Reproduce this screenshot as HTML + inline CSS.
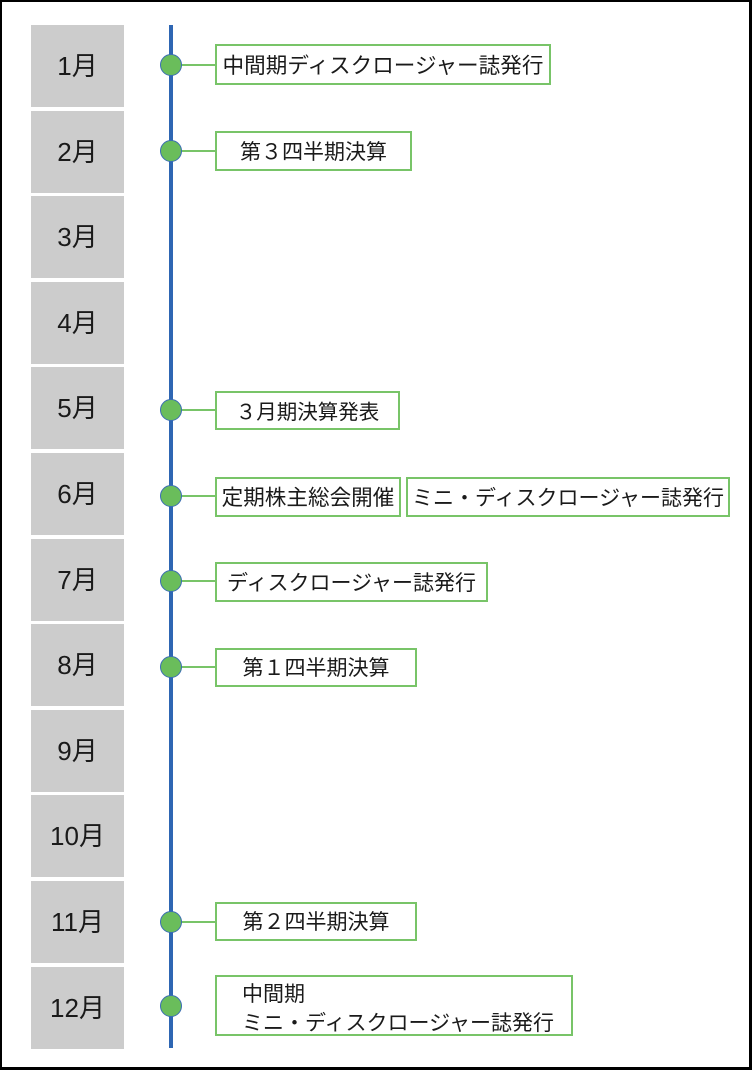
<!DOCTYPE html>
<html>
<head>
<meta charset="utf-8">
<style>
  html, body { margin:0; padding:0; }
  body { width:752px; height:1070px; position:relative; overflow:hidden; background:#fff;
         font-family:"Liberation Sans","Noto Sans CJK JP",sans-serif; color:#1a1a1a; }
  .frame { position:absolute; left:0; top:0; width:752px; height:1070px; box-sizing:border-box;
           border:2px solid #000; border-right-width:3px; border-bottom-width:3px; }
  .m { position:absolute; left:31px; width:93px; height:82px; background:#cccccc;
       text-align:center; line-height:82px; font-size:26px; color:#1a1a1a; }
  .b { position:absolute; box-sizing:border-box; border:2px solid #78c468; background:#fff;
       text-align:center; font-family:"Noto Sans CJK JP","Liberation Sans",sans-serif;
       font-size:21px; white-space:nowrap; color:#1a1a1a; }
  svg { position:absolute; left:0; top:0; }
</style>
</head>
<body>
<div class="frame"></div>

<div class="m" style="top:25px">1月</div>
<div class="m" style="top:111px">2月</div>
<div class="m" style="top:196px">3月</div>
<div class="m" style="top:282px">4月</div>
<div class="m" style="top:367px">5月</div>
<div class="m" style="top:453px">6月</div>
<div class="m" style="top:539px">7月</div>
<div class="m" style="top:624px">8月</div>
<div class="m" style="top:710px">9月</div>
<div class="m" style="top:795px">10月</div>
<div class="m" style="top:881px">11月</div>
<div class="m" style="top:967px">12月</div>

<svg width="752" height="1070" viewBox="0 0 752 1070">
  <rect x="169" y="25" width="4" height="1023" fill="#2e66b3"/>
  <g stroke="#78c468" stroke-width="2">
    <line x1="181" y1="65" x2="216" y2="65"/>
    <line x1="181" y1="151" x2="216" y2="151"/>
    <line x1="181" y1="410" x2="216" y2="410"/>
    <line x1="181" y1="496" x2="216" y2="496"/>
    <line x1="181" y1="581" x2="216" y2="581"/>
    <line x1="181" y1="667" x2="216" y2="667"/>
    <line x1="181" y1="922" x2="216" y2="922"/>
  </g>
  <g fill="#6abd5b" stroke="#3a6db3" stroke-width="1">
    <circle cx="171" cy="65" r="10.5"/>
    <circle cx="171" cy="151" r="10.5"/>
    <circle cx="171" cy="410" r="10.5"/>
    <circle cx="171" cy="496" r="10.5"/>
    <circle cx="171" cy="581" r="10.5"/>
    <circle cx="171" cy="667" r="10.5"/>
    <circle cx="171" cy="922" r="10.5"/>
    <circle cx="171" cy="1006" r="10.5"/>
  </g>
</svg>

<div class="b" style="left:215px;top:44px;width:336px;height:41px;line-height:37px;font-size:21.6px;">中間期ディスクロージャー誌発行</div>
<div class="b" style="left:215px;top:131px;width:197px;height:40px;line-height:36px;">第３四半期決算</div>
<div class="b" style="left:215px;top:391px;width:185px;height:39px;line-height:35px;font-size:20.5px;">３月期決算発表</div>
<div class="b" style="left:215px;top:477px;width:186px;height:40px;line-height:36px;font-size:21.6px;">定期株主総会開催</div>
<div class="b" style="left:406px;top:477px;width:324px;height:40px;line-height:36px;">ミニ・ディスクロージャー誌発行</div>
<div class="b" style="left:215px;top:562px;width:273px;height:40px;line-height:36px;">ディスクロージャー誌発行</div>
<div class="b" style="left:215px;top:648px;width:202px;height:39px;line-height:35px;">第１四半期決算</div>
<div class="b" style="left:215px;top:902px;width:202px;height:39px;line-height:35px;">第２四半期決算</div>
<div class="b" style="left:215px;top:975px;width:358px;height:61px;line-height:29px;text-align:left;padding-left:25px;padding-top:2px;">中間期<br>ミニ・ディスクロージャー誌発行</div>
</body>
</html>
